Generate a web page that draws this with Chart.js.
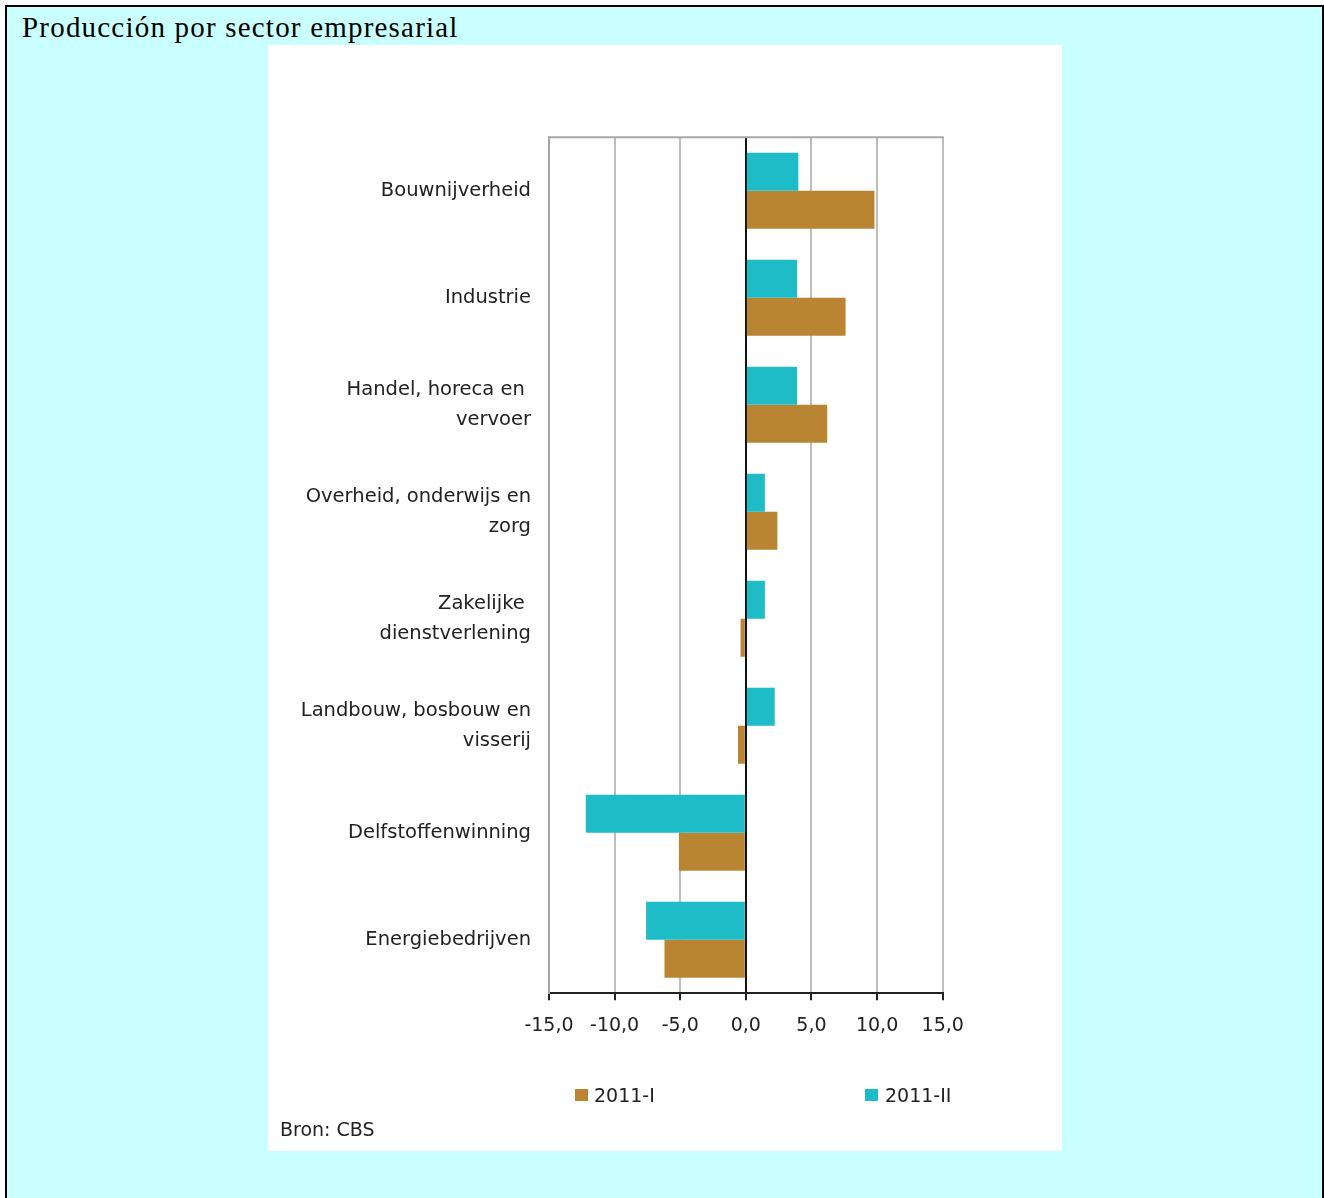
<!DOCTYPE html>
<html>
<head>
<meta charset="utf-8">
<script src="https://cdn.jsdelivr.net/npm/chart.js@4"></script>
<style>
  html, body { margin: 0; padding: 0; background: #ffffff; }
  #frame { position: absolute; left: 5px; top: 5px; width: 1319px; height: 1210px; box-sizing: border-box;
           border: 2px solid #000; border-bottom: none; background: #c9ffff; }
  #title { position: absolute; left: 15px; top: 6px; font-family: "Liberation Serif", "Times New Roman", serif;
           font-size: 29px; line-height: 29px; letter-spacing: 1.2px; color: #000; white-space: nowrap; }
  #panel { position: absolute; left: 261px; top: 38px; width: 794px; height: 1106px; background: #fff; }
  #chartbox { position: absolute; left: 0; top: 0; width: 794px; height: 1106px; }
  .lg { position: absolute; font-family: "DejaVu Sans", sans-serif; font-size: 19px; line-height: 22px; color: #222; white-space: nowrap; }
  .sw { position: absolute; width: 13px; height: 12px; }
</style>
</head>
<body>
<div id="frame">
  <div id="title">Producción por sector empresarial</div>
  <div id="panel">
    <div id="chartbox"><canvas id="c"></canvas></div>
    <div class="sw" style="left:307px;top:1044px;background:#b98532"></div>
    <div class="lg" id="lg1" style="left:326px;top:1039px"></div>
    <div class="sw" style="left:597px;top:1044px;background:#1ebcc6"></div>
    <div class="lg" id="lg2" style="left:617px;top:1039px"></div>
    <div class="lg" id="src" style="left:12px;top:1073px"></div>
  </div>
</div>
<script>
const categories = [
  ["Bouwnijverheid"],
  ["Industrie"],
  ["Handel, horeca en ", "vervoer"],
  ["Overheid, onderwijs en", "zorg"],
  ["Zakelijke ", "dienstverlening"],
  ["Landbouw, bosbouw en", "visserij"],
  ["Delfstoffenwinning"],
  ["Energiebedrijven"]
];
const seriesNames = ["2011-I", "2011-II"];
const values2011I  = [9.8, 7.6, 6.2, 2.4, -0.4, -0.6, -5.1, -6.2];
const values2011II = [4.0, 3.9, 3.9, 1.45, 1.45, 2.2, -12.2, -7.6];
const xTicks = [-15, -10, -5, 0, 5, 10, 15];
const sourceText = "Bron: CBS";

document.getElementById('lg1').textContent = seriesNames[0];
document.getElementById('lg2').textContent = seriesNames[1];
document.getElementById('src').textContent = sourceText;

const topBorder = {
  id: 'topBorder',
  afterDatasetsDraw(chart) {
    const a = chart.chartArea, ctx = chart.ctx;
    ctx.save();
    ctx.strokeStyle = '#a8a8a8';
    ctx.lineWidth = 2;
    ctx.beginPath();
    ctx.moveTo(a.left - 1, a.top);
    ctx.lineTo(a.right + 1, a.top);
    ctx.stroke();
    ctx.restore();
  }
};

const fmt = v => Number(v).toFixed(1).replace('.', ',');

new Chart(document.getElementById('c'), {
  type: 'bar',
  data: {
    labels: categories,
    datasets: [
      { label: seriesNames[1], data: values2011II, backgroundColor: '#1ebcc6', borderWidth: 0,
        categoryPercentage: 0.71, barPercentage: 1.0 },
      { label: seriesNames[0], data: values2011I, backgroundColor: '#b98532', borderWidth: 0,
        categoryPercentage: 0.71, barPercentage: 1.0 }
    ]
  },
  options: {
    indexAxis: 'y',
    responsive: true,
    maintainAspectRatio: false,
    animation: false,
    layout: { padding: { top: 92.3, right: 119.3, bottom: 107.7, left: 0 } },
    plugins: { legend: { display: false }, tooltip: { enabled: false } },
    scales: {
      x: {
        min: xTicks[0], max: xTicks[xTicks.length - 1],
        afterBuildTicks: s => { s.ticks = xTicks.map(v => ({ value: v })); },
        afterFit: s => { s.height = 50; },
        grid: {
          color: c => (c.tick && c.tick.value === 0) ? '#111' : '#bdbdbd',
          lineWidth: 2,
          tickColor: '#222',
          tickLength: 7
        },
        border: { color: '#222', width: 2 },
        ticks: {
          callback: v => fmt(v),
          color: '#222',
          padding: 14,
          maxRotation: 0,
          font: { family: '"DejaVu Sans", sans-serif', size: 19, lineHeight: 1.2 }
        }
      },
      y: {
        afterFit: s => { s.width = 281; },
        grid: { display: false, drawTicks: false },
        border: { color: '#a8a8a8', width: 2 },
        ticks: {
          color: '#222',
          padding: 18,
          font: { family: '"DejaVu Sans", sans-serif', size: 19.5, lineHeight: 1.54 }
        }
      }
    }
  },
  plugins: [topBorder]
});
</script>
</body>
</html>
